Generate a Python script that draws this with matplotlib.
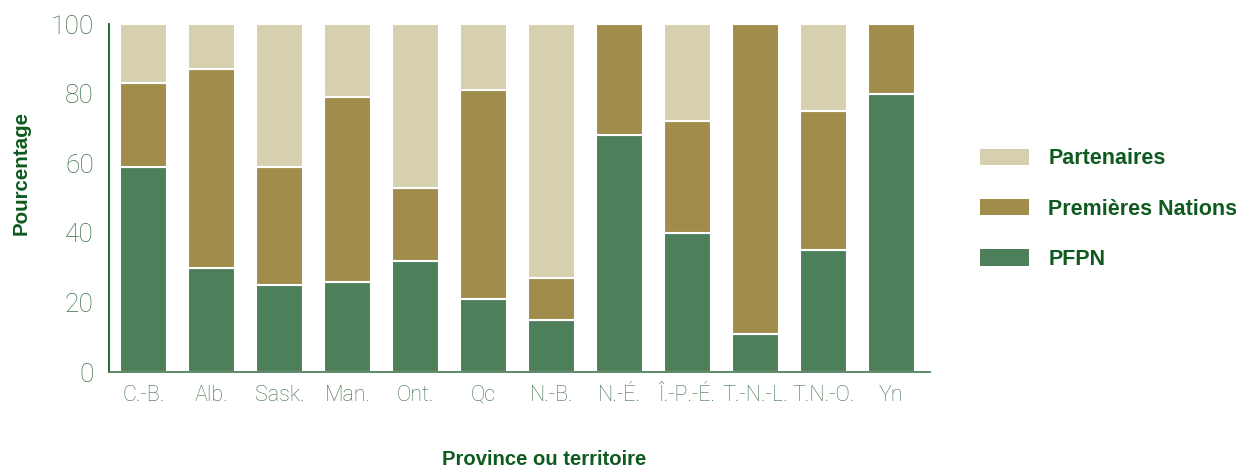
import numpy as np
import matplotlib
matplotlib.use('Agg')
import matplotlib.pyplot as plt
from matplotlib.patches import Patch

# ================
# Data
# ================
provinces = ['C.-B.', 'Alb.', 'Sask.', 'Man.', 'Ont.', 'Qc', 'N.-B.',
             'N.-É.', 'Î.-P.-É.', 'T.-N.-L.', 'T.N.-O.', 'Yn']
pfpn = [59, 30, 25, 26, 32, 21, 15, 68, 40, 11, 35, 80]
premieres_nations = [24, 57, 34, 53, 21, 60, 12, 32, 32, 89, 40, 20]
partenaires = [17, 13, 41, 21, 47, 19, 73, 0, 28, 0, 25, 0]

c_pfpn = '#4e7f5b'
c_pn = '#a08d4c'
c_part = '#d6d0b1'
c_text = '#0f5a1f'
c_tick = '#3e7049'

plt.rcParams['font.family'] = ['Liberation Sans', 'DejaVu Sans']

fig = plt.figure(figsize=(12.36, 4.68), dpi=100)
ax = fig.add_axes([0.0882, 0.205, 0.7524 - 0.0882, 0.9487 - 0.205])

x = np.arange(len(provinces))
w = 0.69
pfpn = np.array(pfpn)
pn = np.array(premieres_nations)
part = np.array(partenaires)

ax.bar(x, pfpn, w, color=c_pfpn, edgecolor='white', linewidth=1.5)
ax.bar(x, pn, w, bottom=pfpn, color=c_pn, edgecolor='white', linewidth=1.5)
ax.bar(x, part, w, bottom=pfpn + pn, color=c_part, edgecolor='white', linewidth=1.5)

ax.set_xlim(-0.51, 11.57)
ax.set_ylim(0, 100)
ax.set_yticks([0, 20, 40, 60, 80, 100])
ax.set_xticks(x)
ax.set_xticklabels(provinces)

for s in ['top', 'right']:
    ax.spines[s].set_visible(False)
ax.spines['left'].set_color('#0f5a1f')
ax.spines['bottom'].set_color('#4e7f5b')
ax.spines['left'].set_linewidth(1.3)
ax.spines['bottom'].set_linewidth(1.3)

ax.tick_params(axis='y', length=0, pad=11, labelsize=19, labelcolor=c_tick)
ax.tick_params(axis='x', length=0, pad=9, labelsize=15.5, labelcolor=c_tick)
for lab in ax.get_yticklabels() + ax.get_xticklabels():
    lab.set_family(['Roboto', 'Liberation Sans', 'DejaVu Sans'])
    lab.set_fontweight('light')

fig.text(0.44, 0.019, 'Province ou territoire', ha='center', va='center',
         fontsize=14.6, fontweight='bold', color=c_text)
fig.text(0.017, 0.63, 'Pourcentage', rotation=90, ha='center', va='center',
         fontsize=14.8, fontweight='bold', color=c_text)

handles = [Patch(facecolor=c_part), Patch(facecolor=c_pn), Patch(facecolor=c_pfpn)]
labels = ['Partenaires', 'Premières Nations', 'PFPN']
leg = fig.legend(handles, labels, loc='center left', bbox_to_anchor=(0.793, 0.553),
                 frameon=False, borderpad=0, borderaxespad=0,
                 handlelength=2.28, handleheight=0.8,
                 labelspacing=1.36, handletextpad=0.88,
                 prop={'size': 15.5, 'weight': 'bold'})
for t in leg.get_texts():
    t.set_color(c_text)

fig.savefig('out.png', dpi=100)
